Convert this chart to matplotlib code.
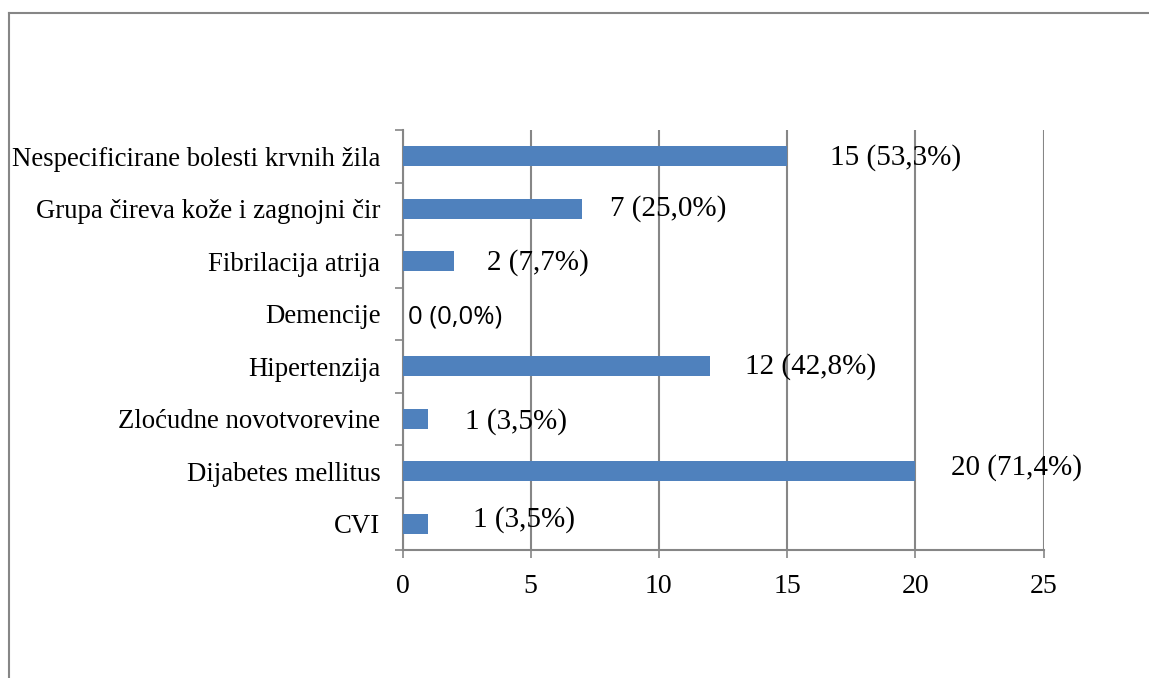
import matplotlib.pyplot as plt
from matplotlib.lines import Line2D
import numpy as np

# categories from bottom to top
categories = ["CVI", "Dijabetes mellitus", "Zloćudne novotvorevine", "Hipertenzija",
              "Demencije", "Fibrilacija atrija", "Grupa čireva kože i zagnojni čir",
              "Nespecificirane bolesti krvnih žila"]
counts = [1, 20, 1, 12, 0, 2, 7, 15]
percents = ["3,5", "71,4", "3,5", "42,8", "0,0", "7,7", "25,0", "53,3"]
x_ticks = [0, 5, 10, 15, 20, 25]

# label offsets (pixels) from the end of each bar
label_dx = [45, 36, 37, 35, 5, 33, 28, 43]
label_dy = [4, 4, -3, 0, -3, -1, 0, -1]

bar_color = "#4F81BD"
grid_color = "#868686"
serif = "Liberation Serif"

W, H = 1149, 678
fig = plt.figure(figsize=(W / 100, H / 100), dpi=100)
ax = fig.add_axes([402.5 / W, 1 - 550 / H, (1043.5 - 402.5) / W, (550 - 130) / H])

y = np.arange(len(categories))
ax.barh(y, counts, height=0.38, color=bar_color, zorder=3)

ax.set_xlim(0, 25)
ax.set_ylim(-0.5, len(categories) - 0.5)
ax.set_xticks(x_ticks)
ax.set_xticklabels([str(t) for t in x_ticks], fontfamily=serif, fontsize=20)
ax.set_yticks(y)
ax.set_yticklabels(categories, fontfamily=serif, fontsize=19.3)
ax.set_yticks(np.arange(len(categories) + 1) - 0.5, minor=True)
ax.tick_params(axis="y", which="major", length=0, pad=16)
ax.tick_params(axis="y", which="minor", length=6, width=1.2, color=grid_color)
ax.tick_params(axis="x", length=6, width=1.2, color=grid_color, pad=11)

ax.grid(axis="x", color=grid_color, linewidth=1.5, zorder=0)
for side in ["top", "right"]:
    ax.spines[side].set_visible(False)
for side in ["left", "bottom"]:
    ax.spines[side].set_color(grid_color)
    ax.spines[side].set_linewidth(1.5)

for i, (c, p) in enumerate(zip(counts, percents)):
    txt = f"{c} ({p}%)"
    if c == 0:
        ax.annotate(txt, (c, i), xytext=(label_dx[i], label_dy[i]), textcoords="offset pixels",
                    va="center", ha="left", fontsize=18.5, fontfamily="Open Sans", zorder=4)
    else:
        ax.annotate(txt, (c, i), xytext=(label_dx[i], label_dy[i]), textcoords="offset pixels",
                    va="center", ha="left", fontsize=21, fontfamily=serif, zorder=4)

# frame lines around the chart area
fig.add_artist(Line2D([9 / W, 1], [1 - 13 / H, 1 - 13 / H], color=grid_color, linewidth=1.5))
fig.add_artist(Line2D([9 / W, 9 / W], [0, 1 - 13 / H], color=grid_color, linewidth=1.5))

fig.savefig("out.png", dpi=100)
